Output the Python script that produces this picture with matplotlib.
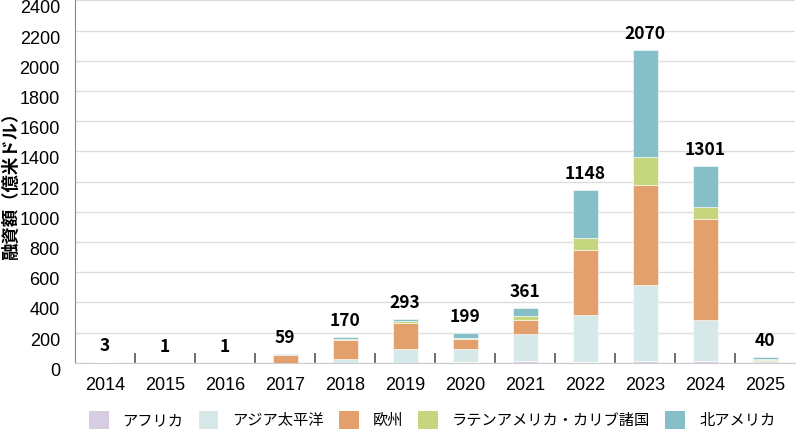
import numpy as np
import matplotlib
matplotlib.use("Agg")
import matplotlib.pyplot as plt
from matplotlib.patches import Patch

plt.rcParams['font.family'] = ['Noto Sans CJK JP', 'DejaVu Sans']

years = ["2014", "2015", "2016", "2017", "2018", "2019", "2020", "2021", "2022", "2023", "2024", "2025"]
totals = [3, 1, 1, 59, 170, 293, 199, 361, 1148, 2070, 1301, 40]
regions = ["アフリカ", "アジア太平洋", "欧州", "ラテンアメリカ・カリブ諸国", "北アメリカ"]
africa = [0, 0, 0, 0, 1, 2, 3, 13, 8, 15, 13, 0]
asia = [0, 0, 1, 1, 25, 87, 92, 179, 312, 504, 272, 10]
europe = [3, 0, 0, 53, 124, 172, 66, 91, 428, 662, 666, 12]
latam = [0, 0, 0, 1, 9, 15, 7, 26, 79, 179, 78, 6]
north_america = [0, 1, 0, 4, 11, 17, 31, 52, 321, 710, 272, 12]
colors = ["#d6cde3", "#d6e8e7", "#e4a06c", "#c6d67e", "#86bfc7"]

series = [africa, asia, europe, latam, north_america]

fig = plt.figure(figsize=(8, 4.32), dpi=100)
ax = fig.add_axes([0.094, 0.16, 0.9, 0.839])

x = np.arange(len(years))
bottom = np.zeros(len(years))
for vals, c in zip(series, colors):
    ax.bar(x, vals, 0.42, bottom=bottom, color=c, edgecolor="white", linewidth=0.4, zorder=3)
    bottom += np.array(vals)

for xi, t in zip(x, totals):
    ax.annotate(str(t), (xi, max(t, bottom[xi])), xytext=(0, 5), textcoords="offset points",
                ha="center", va="bottom", fontsize=12.5, fontweight="bold")

tick_font = {"family": "Liberation Sans", "size": 13}
ax.set_xlim(-0.5, len(years) - 0.5)
ax.set_ylim(0, 2400)
ax.set_yticks(np.arange(0, 2401, 200))
ax.set_yticklabels([str(v) for v in range(0, 2401, 200)], fontdict=tick_font, va="top")
ax.set_xticks(x)
ax.set_xticklabels(years, fontdict=tick_font)
ax.set_xticks(np.arange(0.5, len(years) - 1, 1), minor=True)
ax.tick_params(axis="x", which="major", length=0, pad=10)
ax.tick_params(axis="x", which="minor", direction="in", length=7, width=1.2, color="#555555")
ax.tick_params(axis="y", length=0, pad=11)
ax.grid(axis="y", color="#dddddd", linewidth=1, zorder=0)
for s in ["top", "right"]:
    ax.spines[s].set_visible(False)
ax.spines["left"].set_color("#888888")
ax.spines["bottom"].set_color("#cccccc")
ax.set_ylabel("融資額（億米ドル）", fontsize=12.5, fontweight="bold", labelpad=0)

handles = [Patch(facecolor=c, edgecolor="none") for c in colors]
fig.legend(handles, regions, loc="lower center", ncol=5, frameon=False, fontsize=11,
           bbox_to_anchor=(0.54, -0.025), handlelength=1.3, handleheight=1.4, columnspacing=1.0,
           handletextpad=0.9)

fig.savefig("out.png", dpi=100)
